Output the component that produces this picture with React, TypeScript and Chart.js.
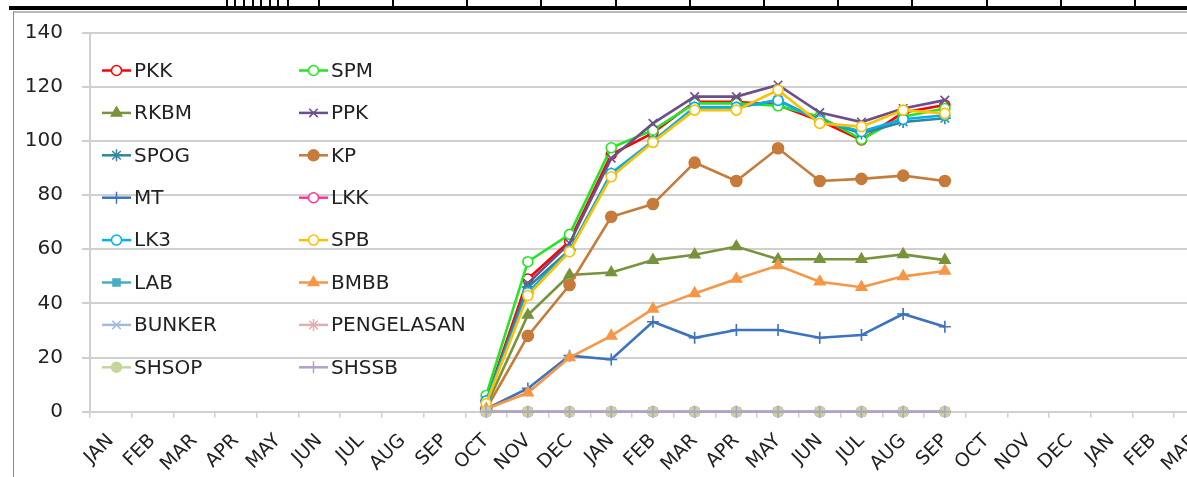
import React, { useEffect, useRef } from 'react';
import { Chart, registerables } from 'chart.js';
import { drawPoint } from 'chart.js/helpers';

Chart.register(...registerables);

// Month axis: Jan of the first year through March of the third year
const categories = [
  'JAN', 'FEB', 'MAR', 'APR', 'MAY', 'JUN', 'JUL', 'AUG', 'SEP', 'OCT', 'NOV', 'DEC',
  'JAN', 'FEB', 'MAR', 'APR', 'MAY', 'JUN', 'JUL', 'AUG', 'SEP', 'OCT', 'NOV', 'DEC',
  'JAN', 'FEB', 'MAR',
];

// Reported months run from OCT (first year) to SEP (second year)
const firstReportedIndex = 9;

const yTicks = { min: 0, max: 140, step: 20 };

const seriesNames = [
  'PKK', 'SPM', 'RKBM', 'PPK', 'SPOG', 'KP', 'MT', 'LKK',
  'LK3', 'SPB', 'LAB', 'BMBB', 'BUNKER', 'PENGELASAN', 'SHSOP', 'SHSSB',
];

// Values per unit, OCT .. SEP
const pkk = [4, 49, 63, 95, 103, 114.5, 114.5, 113.3, 107.5, 100.4, 110.5, 113.3];
const spm = [6, 55.4, 65.5, 97.5, 104, 113.9, 113.9, 113, 109, 100.6, 109, 112];
const rkbm = [2, 35.7, 50.5, 51.4, 56, 58, 61, 56.3, 56.3, 56.3, 58.1, 56];
const ppk = [3, 47.4, 62.2, 93.6, 106.5, 116.4, 116.4, 120.7, 110.5, 107, 112, 115.1];
const spog = [4, 46, 59.7, 88, 99.7, 112.4, 112.4, 115.1, 107.7, 102.8, 107, 108.4];
const kp = [1, 28, 46.8, 72, 76.7, 92, 85.2, 97.3, 85.2, 86, 87.2, 85.2];
const mt = [1, 8.6, 20.7, 19.3, 33.2, 27.3, 30.2, 30.2, 27.3, 28.3, 36.1, 31.4];
const lkk = [0, 0, 0, 0, 0, 0, 0, 0, 0, 0, 0, 0];
const lk3 = [4, 44, 59.5, 88, 100, 112.4, 112.4, 115, 107.5, 103.5, 108, 109.5];
const spb = [3, 42.9, 59.1, 86.8, 99.5, 111.4, 111.4, 118.8, 106.5, 105.3, 111.4, 110.2];
const lab = [0, 0, 0, 0, 0, 0, 0, 0, 0, 0, 0, 0];
const bmbb = [1, 7, 20, 28, 38, 43.7, 49, 54, 48, 46, 50, 52];
const bunker = [0, 0, 0, 0, 0, 0, 0, 0, 0, 0, 0, 0];
const pengelasan = [0, 0, 0, 0, 0, 0, 0, 0, 0, 0, 0, 0];
const shsop = [0, 0, 0, 0, 0, 0, 0, 0, 0, 0, 0, 0];
const shssb = [0, 0, 0, 0, 0, 0, 0, 0, 0, 0, 0, 0];

const seriesValues = [
  pkk, spm, rkbm, ppk, spog, kp, mt, lkk,
  lk3, spb, lab, bmbb, bunker, pengelasan, shsop, shssb,
];

// Line colour, marker shape, marker fill
type SeriesStyle = { color: string; point: string; radius: number; fill: string };
const seriesStyles: SeriesStyle[] = [
  { color: '#FF0000', point: 'circle', radius: 5, fill: '#FFFFFF' },
  { color: '#22E622', point: 'circle', radius: 5, fill: '#FFFFFF' },
  { color: '#77933C', point: 'triangle', radius: 6, fill: '#77933C' },
  { color: '#6B4F8C', point: 'crossRot', radius: 6, fill: '#6B4F8C' },
  { color: '#31859C', point: 'star', radius: 6, fill: '#31859C' },
  { color: '#C67B3A', point: 'circle', radius: 5.5, fill: '#C67B3A' },
  { color: '#3D72BE', point: 'cross', radius: 6, fill: '#3D72BE' },
  { color: '#FF3399', point: 'circle', radius: 5, fill: '#FFFFFF' },
  { color: '#00B0F0', point: 'circle', radius: 5, fill: '#FFFFFF' },
  { color: '#FFC000', point: 'circle', radius: 5, fill: '#FFFFFF' },
  { color: '#4BACC6', point: 'rect', radius: 5, fill: '#4BACC6' },
  { color: '#F79646', point: 'triangle', radius: 6, fill: '#F79646' },
  { color: '#A5BADF', point: 'crossRot', radius: 6, fill: '#A5BADF' },
  { color: '#E0B0B0', point: 'star', radius: 6, fill: '#E0B0B0' },
  { color: '#C3D69B', point: 'circle', radius: 5, fill: '#C3D69B' },
  { color: '#B3A2C7', point: 'cross', radius: 6, fill: '#B3A2C7' },
];

const alignToAxis = (values: number[]) => {
  const row: (number | null)[] = categories.map(() => null);
  values.forEach((v, i) => {
    row[firstReportedIndex + i] = v;
  });
  return row;
};

const FONT = "'DejaVu Sans', sans-serif";
const GRID = '#D0D0D0';
const TEXT = '#222222';

Chart.defaults.font.family = FONT;
Chart.defaults.font.size = 20;
Chart.defaults.color = TEXT;

// Two-column legend drawn inside the plot area
const insideLegend = {
  id: 'insideLegend',
  afterDraw(chart: any) {
    const { ctx } = chart;
    const colX = [102, 299];
    const sample = 29;
    const rowY0 = 70.5;
    const rowStep = 42.4;
    ctx.save();
    ctx.font = `20px ${FONT}`;
    ctx.textBaseline = 'middle';
    ctx.textAlign = 'left';
    chart.data.datasets.forEach((ds: any, i: number) => {
      const x = colX[i % 2];
      const y = rowY0 + Math.floor(i / 2) * rowStep;
      ctx.strokeStyle = ds.borderColor;
      ctx.lineWidth = 2.5;
      ctx.beginPath();
      ctx.moveTo(x, y);
      ctx.lineTo(x + sample, y);
      ctx.stroke();
      ctx.fillStyle = ds.pointBackgroundColor;
      ctx.strokeStyle = ds.pointBorderColor;
      ctx.lineWidth = 1.5;
      drawPoint(ctx, { pointStyle: ds.pointStyle, rotation: 0, radius: ds.pointRadius, borderWidth: 1.5 }, x + sample / 2, y);
      ctx.fillStyle = TEXT;
      ctx.fillText(ds.label, x + sample + 3, y + 1);
    });
    ctx.restore();
  },
};

const CANVAS_W = 1230;
const CANVAS_H = 477;
const PLOT_LEFT = 90;
const PLOT_TOP = 32.7;
const PLOT_BOTTOM = 411.7;
const PLOT_RIGHT = 1215.9;

const topTicks = [226, 234, 243, 252, 260, 269, 277, 287, 318, 392, 466, 540, 615, 689, 763, 837, 911, 986, 1060, 1134];

export default function App() {
  const canvasRef = useRef<HTMLCanvasElement | null>(null);

  useEffect(() => {
    document.body.style.margin = '0';
    const canvas = canvasRef.current;
    if (!canvas) return;
    const datasets = seriesNames.map((name, i) => {
      const s = seriesStyles[i];
      return {
        label: name,
        data: alignToAxis(seriesValues[i]),
        borderColor: s.color,
        backgroundColor: s.color,
        borderWidth: 2.6,
        pointStyle: s.point,
        pointRadius: s.radius,
        pointBackgroundColor: s.fill,
        pointBorderColor: s.color,
        pointBorderWidth: 1.6,
        tension: 0,
        spanGaps: false,
        clip: false,
        order: -i,
      };
    });
    const chart = new Chart(canvas, {
      type: 'line',
      data: { labels: categories, datasets },
      options: {
        animation: false,
        responsive: false,
        devicePixelRatio: 1,
        layout: { padding: { left: 0, top: PLOT_TOP, right: CANVAS_W - PLOT_RIGHT, bottom: 0 } },
        plugins: {
          legend: { display: false },
          tooltip: { enabled: false },
        },
        scales: {
          x: {
            type: 'category',
            offset: true,
            afterFit: (scale: any) => {
              scale.height = CANVAS_H - PLOT_BOTTOM;
            },
            grid: {
              offset: true,
              drawOnChartArea: false,
              drawTicks: true,
              tickLength: 6,
              color: GRID,
              lineWidth: 1.5,
            },
            border: { display: true, color: GRID, width: 2 },
            ticks: {
              autoSkip: false,
              minRotation: 45,
              maxRotation: 45,
              padding: 12,
              color: TEXT,
              font: { family: FONT, size: 19 },
            },
          },
          y: {
            type: 'linear',
            min: yTicks.min,
            max: yTicks.max,
            afterFit: (scale: any) => {
              scale.width = PLOT_LEFT;
            },
            ticks: {
              stepSize: yTicks.step,
              padding: 19,
              color: TEXT,
              font: { family: FONT, size: 20 },
            },
            grid: {
              color: GRID,
              lineWidth: 2,
              tickLength: 8,
              drawTicks: true,
            },
            border: { display: true, color: GRID, width: 2 },
          },
        },
      },
      plugins: [insideLegend],
    });
    return () => chart.destroy();
  }, []);

  return (
    <div
      style={{
        position: 'fixed',
        left: 0,
        top: 0,
        width: 1187,
        height: 477,
        overflow: 'hidden',
        background: '#FFFFFF',
      }}
    >
      {topTicks.map((x) => (
        <div
          key={x}
          style={{ position: 'absolute', left: x, top: 0, width: 2, height: 7, background: '#000' }}
        />
      ))}
      <div style={{ position: 'absolute', left: 9, top: 6, right: 0, height: 3.5, background: '#000' }} />
      <div
        style={{
          position: 'absolute',
          left: 13,
          top: 11,
          right: -20,
          bottom: -20,
          borderLeft: '1.5px solid #8C8C8C',
          borderTop: '2px solid #B8B8B8',
        }}
      />
      <canvas
        ref={canvasRef}
        width={CANVAS_W}
        height={CANVAS_H}
        style={{ position: 'absolute', left: 0, top: 0, width: CANVAS_W, height: CANVAS_H }}
      />
    </div>
  );
}
